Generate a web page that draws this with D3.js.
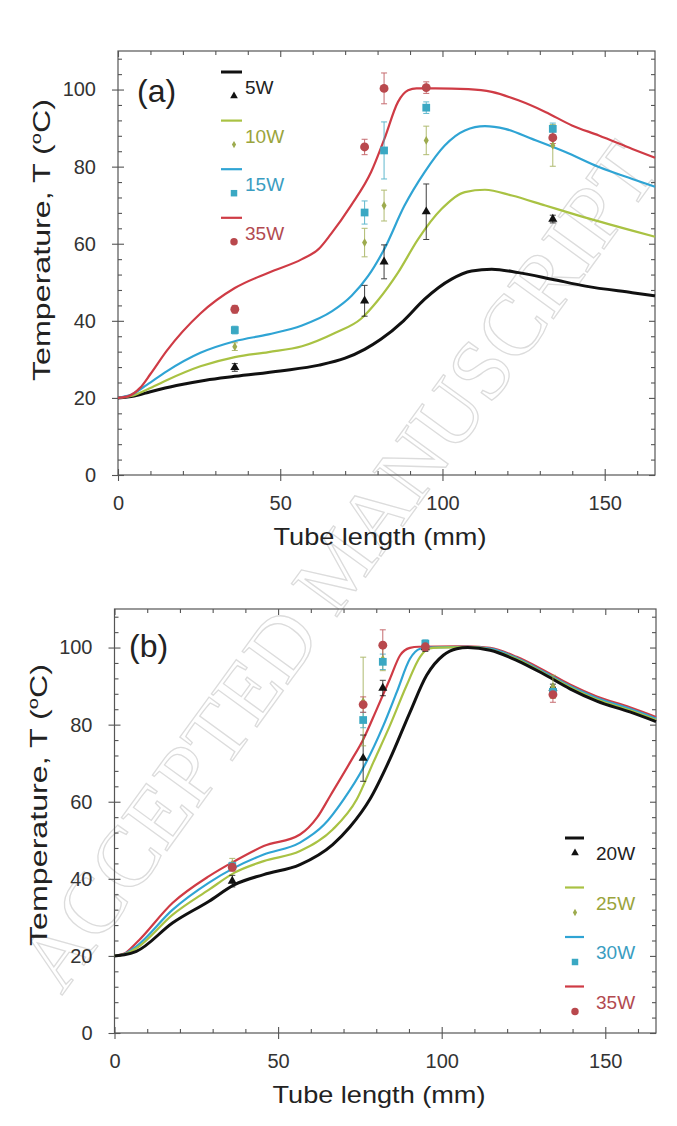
<!DOCTYPE html>
<html><head><meta charset="utf-8">
<script src="https://cdn.jsdelivr.net/npm/d3@7"></script>
<style>body{margin:0;background:#fff}</style>
</head><body>
<svg id="chart" width="677" height="1126"></svg>
<script>
// ---------- data ----------
const xTicks = [0, 50, 100, 150];
const yTicks = [0, 20, 40, 60, 80, 100];
const xMinor = [10,20,30,40,60,70,80,90,110,120,130,140,160];
const yMinor = [4,8,12,16,24,28,32,36,44,48,52,56,64,68,72,76,84,88,92,96,104,108];
const measX = [36, 76, 82, 95, 134];

// Panel (a)
const labelsA = ["5W", "10W", "15W", "35W"];
const curveA_5W  = [[0,20],[5,20.5],[10,21.6],[18,23.2],[27,24.6],[36,25.6],[50,27],[62,28.5],[70,30.3],[76,32.6],[81,35.2],[88,40],[94.5,45.6],[102.8,50.8],[109,52.9],[115.2,53.4],[123.4,52.5],[133.7,50.8],[144.1,49],[158.5,47.3],[165.5,46.5]];
const curveA_10W = [[0,20],[4,20.5],[9,22.2],[15,24.6],[25.4,28.2],[36,30.6],[46.4,31.9],[56.7,33.4],[67,36.9],[75,40.6],[80,45.2],[86.3,52.5],[92.5,61.2],[99.7,69],[106.9,73.4],[113.1,74],[121.4,72.5],[131.7,69.9],[142,67.3],[158.5,63.4],[165.5,61.8]];
const curveA_15W = [[0,20],[4,20.8],[8.9,23.4],[15,26.9],[25.4,31.7],[36,34.7],[46.4,36.5],[56.7,38.8],[66,42.5],[72,46.5],[77,51.5],[82,58.5],[88.3,69.9],[94.5,78.6],[100.7,85.5],[106.9,89.4],[113.1,90.5],[119.3,89.8],[127.6,87.2],[137.9,83.8],[148.2,79.9],[158.5,76.8],[165.5,74.8]];
const curveA_35W = [[0,20],[3,20.4],[6.8,22.6],[10,26.2],[15,32.2],[25.4,41.9],[36,48.5],[46.4,52.5],[56.7,56],[61.8,58.6],[65.6,62.5],[71.8,69.9],[78,78.6],[82.1,87.2],[86.3,96.8],[89.4,99.8],[92,100.3],[97.7,100.3],[108,100.1],[115.2,99.4],[123.4,97.2],[131.7,94.2],[139.9,90.7],[148.2,88.1],[158.5,84.6],[165.5,82.3]];
const measA_5W  = [27.9, 45.2, 55.3, 68.3, 66.4];
const measA_10W = [33.3, 60.3, 69.9, 86.8, 85.5];
const measA_15W = [37.6, 68.1, 84.2, 95.3, 89.8];
const measA_35W = [43.0, 85.1, 100.3, 100.5, 87.5];
const errA_5W  = [1, 4, 4.4, 7.2, 1];
const errA_10W = [1, 3.7, 4, 3.7, 5.4];
const errA_15W = [1, 3, 7.4, 1.5, 1.5];
const errA_35W = [1, 2, 4, 1.5, 1.5];

// Panel (b)
const labelsB = ["20W", "25W", "30W", "35W"];
const curveB_20W = [[0,20],[3,20.3],[6.7,21.2],[17.8,28.6],[28.9,34.2],[36.7,38.5],[45.6,41.1],[56.7,43.7],[66.7,48.9],[72,53.5],[78.1,60.7],[84.2,71.1],[90.3,83.2],[95.4,92.8],[100.5,98],[104.6,99.7],[108,100],[114.8,99.3],[122.9,96.7],[131,93.2],[139.2,89.3],[147.4,86.1],[157.5,83.3],[165.5,80.8]];
const curveB_25W = [[0,20],[3,20.4],[6.7,22],[17.8,30.7],[28.9,37.2],[36.7,41.6],[45.6,44.6],[56.7,47.2],[66.7,52.8],[74.1,60.7],[79.1,70.2],[84.2,79.8],[89.3,90.2],[93.4,97.6],[95.9,99.7],[99,100],[108,100.1],[114.8,99.5],[122.9,97],[131,93.5],[139.2,89.7],[147.4,86.5],[157.5,83.7],[165.5,81.2]];
const curveB_30W = [[0,20],[3,20.5],[6.7,22.5],[17.8,32],[28.9,39],[36.7,42.9],[45.6,46.3],[56.7,49.4],[64,54],[70.1,60.7],[76.1,68.9],[82.2,79.8],[86.3,88.5],[90.3,97.1],[93.4,99.7],[96,100],[108,100.2],[114.8,99.7],[122.9,97.3],[131,93.8],[139.2,90],[147.4,86.9],[157.5,84.1],[165.5,81.6]];
const curveB_35W = [[0,20],[3,20.6],[6.7,23.4],[17.8,33.8],[28.9,40.7],[36.7,44.6],[45.6,48.5],[56.7,51.5],[62,56],[65.9,61.5],[72,70.2],[76.1,76.3],[80.2,84.1],[84.2,91.9],[87.3,98],[90.3,99.9],[93,100.2],[108,100.3],[114.8,99.9],[122.9,97.6],[131,94.2],[139.2,90.4],[147.4,87.3],[157.5,84.5],[165.5,82]];
const measB_20W = [39.4, 71.3, 89.5, 100.0, 89.5];
const measB_25W = [43.8, 86.0, 97.0, 100.5, 89.8];
const measB_30W = [43.3, 81.2, 96.3, 101.0, 88.5];
const measB_35W = [43.0, 85.2, 100.6, 100.2, 87.8];
const errB_20W = [1.5, 6, 2, 1, 1];
const errB_25W = [1.5, 11.5, 3, 1, 3];
const errB_30W = [1, 2, 2, 1, 1];
const errB_35W = [1, 2, 4, 1, 2];

// ---------- styling ----------
const lineColors   = ["#111111", "#a9c243", "#2fa4d4", "#cf3b45"];
const markColors   = ["#111111", "#9dab4e", "#3aa8c3", "#b9484d"];
const textColors   = ["#222222", "#9aa43c", "#3a9dc1", "#b24a50"];
const lineWidths   = [3, 2.2, 2.2, 2.2];
const symbols      = [d3.symbolTriangle, d3.symbolDiamond, d3.symbolSquare, d3.symbolCircle];
const symSizes     = [36, 22, 60, 62];
const FONT = "'Liberation Sans', Arial, Helvetica, sans-serif";

const svg = d3.select("#chart");

// watermark (faint outline text)
svg.append("text")
  .attr("transform", "translate(338,566) rotate(-54)")
  .attr("text-anchor", "middle")
  .attr("dominant-baseline", "central")
  .style("font-family", "'Liberation Serif', 'Times New Roman', serif")
  .style("font-size", "86px")
  .style("fill", "none")
  .style("stroke", "#dcdcdc")
  .style("stroke-width", 1.3)
  .text("ACCEPTED MANUSCRIPT");

function panel(cfg) {
  const x = d3.scaleLinear().domain([0, 165.5]).range([cfg.left, cfg.right]);
  const y = d3.scaleLinear().domain([0, 110]).range([cfg.bottom, cfg.top]);
  const g = svg.append("g");
  const axisColor = "#555";

  g.append("rect").attr("x", cfg.left).attr("y", cfg.top)
    .attr("width", cfg.right - cfg.left).attr("height", cfg.bottom - cfg.top)
    .attr("fill", "none").attr("stroke", axisColor).attr("stroke-width", 1.2);

  function styleAxis(sel) {
    sel.select(".domain").remove();
    sel.selectAll(".tick line").attr("stroke", axisColor).attr("stroke-width", 1.1);
    sel.selectAll(".tick text").attr("fill", "#333").style("font-family", FONT).style("font-size", "20px");
  }
  g.append("g").attr("transform", `translate(0,${cfg.bottom})`)
    .call(d3.axisBottom(x).tickValues(xTicks).tickSize(6).tickPadding(15).tickFormat(d3.format("d")))
    .call(styleAxis);
  g.append("g").attr("transform", `translate(0,${cfg.bottom})`)
    .call(d3.axisBottom(x).tickValues(xTicks).tickSize(-6).tickFormat(""))
    .call(styleAxis);
  g.append("g").attr("transform", `translate(0,${cfg.bottom})`)
    .call(d3.axisBottom(x).tickValues(xMinor).tickSize(-4).tickFormat(""))
    .call(styleAxis);
  g.append("g").attr("transform", `translate(0,${cfg.top})`)
    .call(d3.axisTop(x).tickValues(xTicks).tickSize(-6).tickFormat(""))
    .call(styleAxis);
  g.append("g").attr("transform", `translate(0,${cfg.top})`)
    .call(d3.axisTop(x).tickValues(xMinor).tickSize(-4).tickFormat(""))
    .call(styleAxis);
  g.append("g").attr("transform", `translate(${cfg.left},0)`)
    .call(d3.axisLeft(y).tickValues(yTicks).tickSize(6).tickPadding(16).tickFormat(d3.format("d")))
    .call(styleAxis);
  g.append("g").attr("transform", `translate(${cfg.left},0)`)
    .call(d3.axisLeft(y).tickValues(yTicks).tickSize(-6).tickFormat(""))
    .call(styleAxis);
  g.append("g").attr("transform", `translate(${cfg.left},0)`)
    .call(d3.axisLeft(y).tickValues(yMinor).tickSize(-4).tickFormat(""))
    .call(styleAxis);
  g.append("g").attr("transform", `translate(${cfg.right},0)`)
    .call(d3.axisRight(y).tickValues(yTicks).tickSize(-6).tickFormat(""))
    .call(styleAxis);
  g.append("g").attr("transform", `translate(${cfg.right},0)`)
    .call(d3.axisRight(y).tickValues(yMinor).tickSize(-4).tickFormat(""))
    .call(styleAxis);

  // axis titles
  g.append("text").attr("x", cfg.xtitleX).attr("y", cfg.bottom + 70)
    .attr("text-anchor", "middle").attr("fill", "#222")
    .attr("textLength", 213).attr("lengthAdjust", "spacingAndGlyphs")
    .style("font-family", FONT).style("font-size", "24px").text("Tube length (mm)");
  const yt = g.append("text")
    .attr("transform", `translate(${cfg.ytitleX},${cfg.ytitleY}) rotate(-90)`)
    .attr("text-anchor", "middle").attr("fill", "#222")
    .attr("textLength", 282).attr("lengthAdjust", "spacingAndGlyphs")
    .style("font-family", FONT).style("font-size", "24px");
  yt.append("tspan").text("Temperature, T (");
  yt.append("tspan").attr("dy", -9).style("font-size", "15px").text("o");
  yt.append("tspan").attr("dy", 9).text("C)");

  g.append("text").attr("x", cfg.tagX).attr("y", cfg.tagY).attr("fill", "#222")
    .style("font-family", FONT).style("font-size", "32px").text(cfg.tag);

  // curves
  const line = d3.line().x(d => x(d[0])).y(d => y(d[1])).curve(d3.curveMonotoneX);
  const plot = g.append("g");
  cfg.drawOrder.forEach(i => {
    plot.append("path").datum(cfg.curves[i]).attr("d", line)
      .attr("fill", "none").attr("stroke", lineColors[i]).attr("stroke-width", lineWidths[i])
      .attr("stroke-linejoin", "round");
  });
  // error bars
  cfg.meas.forEach((vals, i) => {
    const errs = cfg.errs[i];
    const eg = plot.append("g").attr("stroke", markColors[i]).attr("stroke-width", 1).attr("opacity", 0.8);
    vals.forEach((v, k) => {
      const e = errs[k];
      const cx = x(measX[k]);
      eg.append("line").attr("x1", cx).attr("x2", cx).attr("y1", y(v - e)).attr("y2", y(v + e));
      [v - e, v + e].forEach(t => {
        eg.append("line").attr("x1", cx - 3).attr("x2", cx + 3).attr("y1", y(t)).attr("y2", y(t));
      });
    });
  });
  // markers
  cfg.meas.forEach((vals, i) => {
    plot.selectAll(null).data(vals).enter().append("path")
      .attr("transform", (v, k) => `translate(${x(measX[k])},${y(v)})`)
      .attr("d", d3.symbol().type(symbols[i]).size(symSizes[i]))
      .attr("fill", markColors[i]);
  });

  // legend
  const lg = g.append("g");
  cfg.labels.forEach((lab, i) => {
    const ly = cfg.legY + cfg.legStep * i;
    lg.append("line").attr("x1", cfg.legLineX1).attr("x2", cfg.legLineX2)
      .attr("y1", ly).attr("y2", ly).attr("stroke", lineColors[i]).attr("stroke-width", lineWidths[i]);
    lg.append("path")
      .attr("transform", `translate(${cfg.legMarkX},${ly + cfg.markOff[i]})`)
      .attr("d", d3.symbol().type(symbols[i]).size(symSizes[i] * 0.7))
      .attr("fill", markColors[i]);
    lg.append("text").attr("x", cfg.legTextX).attr("y", ly + 22)
      .attr("fill", textColors[i]).style("font-family", FONT).style("font-size", "19px").text(lab);
  });
}

panel({
  left: 118, right: 655, top: 51, bottom: 475,
  xtitleX: 380, ytitleX: 50, ytitleY: 240, tag: "(a)", tagX: 137, tagY: 102,
  curves: [curveA_5W, curveA_10W, curveA_15W, curveA_35W], drawOrder: [0, 1, 2, 3],
  meas: [measA_5W, measA_10W, measA_15W, measA_35W],
  errs: [errA_5W, errA_10W, errA_15W, errA_35W],
  labels: labelsA, legY: 72, legStep: 48.6,
  legLineX1: 221, legLineX2: 242, legMarkX: 234, legTextX: 245,
  markOff: [24, 24, 24, 24]
});
panel({
  left: 114.5, right: 656, top: 609, bottom: 1033,
  xtitleX: 379, ytitleX: 47, ytitleY: 805, tag: "(b)", tagX: 129, tagY: 657,
  curves: [curveB_20W, curveB_25W, curveB_30W, curveB_35W], drawOrder: [3, 2, 1, 0],
  meas: [measB_20W, measB_25W, measB_30W, measB_35W],
  errs: [errB_20W, errB_25W, errB_30W, errB_35W],
  labels: labelsB, legY: 838, legStep: 49.5,
  legLineX1: 565, legLineX2: 584, legMarkX: 575, legTextX: 596,
  markOff: [15, 25, 25, 25]
});
</script>
</body></html>
